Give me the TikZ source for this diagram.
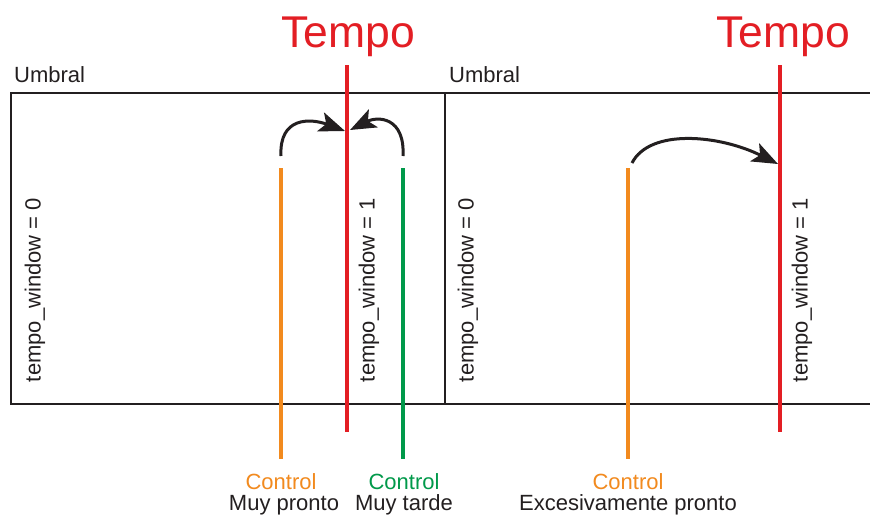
\documentclass[tikz,border=0pt]{standalone}
\usepackage{fontspec}
\setmainfont{Liberation Sans}
\usetikzlibrary{arrows.meta}
\definecolor{ink}{HTML}{231F20}
\definecolor{tred}{HTML}{E31E24}
\definecolor{torange}{HTML}{F28A1E}
\definecolor{tgreen}{HTML}{00994A}
\tikzset{
  frame/.style={draw=ink, line width=2.7pt},
  beat/.style={line width=3.5pt},
  lbl/.style={font=\fontsize{22}{24}\selectfont, text=ink, inner sep=0pt},
  title/.style={font=\fontsize{44.5}{46}\selectfont, text=tred, inner sep=0pt, anchor=base},
  vlbl/.style={lbl, rotate=90},
  jump/.style={draw=ink, line width=3pt, -{Stealth[length=26pt, width=20pt, inset=6pt]}},
}
\begin{document}
\begin{tikzpicture}[x=1pt, y=-1pt]
\useasboundingbox (0,0) rectangle (870,514);
\fill[white] (0,0) rectangle (870,514);

% threshold windows
\draw[frame] (870,93) -- (11,93) -- (11,404) -- (870,404);
\draw[frame] (445,93) -- (445,404);
\node[lbl, anchor=base west] (u1) at (14,82) {Umbral};
\node[lbl, anchor=base west] (u2) at (449,82) {Umbral};
\node[vlbl] (w0a) at (35,290) {tempo\_window = 0};
\node[vlbl] (w1a) at (369,290) {tempo\_window = 1};
\node[vlbl] (w0b) at (468,290) {tempo\_window = 0};
\node[vlbl] (w1b) at (802,290) {tempo\_window = 1};

% tempo beats
\node[title] (t1) at (348,47) {Tempo};
\node[title] (t2) at (783,47) {Tempo};
\coordinate (r1t) at (347,65);  \coordinate (r1b) at (347,432);
\coordinate (r2t) at (780,65);  \coordinate (r2b) at (780,432);
\draw[beat, draw=tred] (r1t) -- (r1b);
\draw[beat, draw=tred] (r2t) -- (r2b);

% control beats
\coordinate (o1t) at (281,168); \coordinate (o1b) at (281,459);
\coordinate (g1t) at (403,168); \coordinate (g1b) at (403,459);
\coordinate (o2t) at (628,168); \coordinate (o2b) at (628,459);
\draw[beat, draw=torange] (o1t) -- (o1b);
\draw[beat, draw=tgreen] (g1t) -- (g1b);
\draw[beat, draw=torange] (o2t) -- (o2b);

\node[lbl, text=torange, anchor=base] (c1) at (281,489) {Control};
\node[lbl, anchor=base] (m1) at (284,510) {Muy pronto};
\node[lbl, text=tgreen, anchor=base] (c2) at (404,489) {Control};
\node[lbl, anchor=base] (m2) at (404,510) {Muy tarde};
\node[lbl, text=torange, anchor=base] (c3) at (628,489) {Control};
\node[lbl, anchor=base] (m3) at (628,510) {Excesivamente pronto};

% corrections towards the beat
\coordinate (a1s) at (281,156); \coordinate (a1e) at (345,131);
\coordinate (a2s) at (403,156); \coordinate (a2e) at (350,130);
\coordinate (a3s) at (632,163); \coordinate (a3e) at (778,164);
\draw[jump] (a1s) .. controls (279,117) and (310,118) .. (a1e);
\draw[jump] (a2s) .. controls (405,117) and (378,116) .. (a2e);
\draw[jump] (a3s) .. controls (650,128) and (720,135) .. (a3e);
\end{tikzpicture}
\end{document}
